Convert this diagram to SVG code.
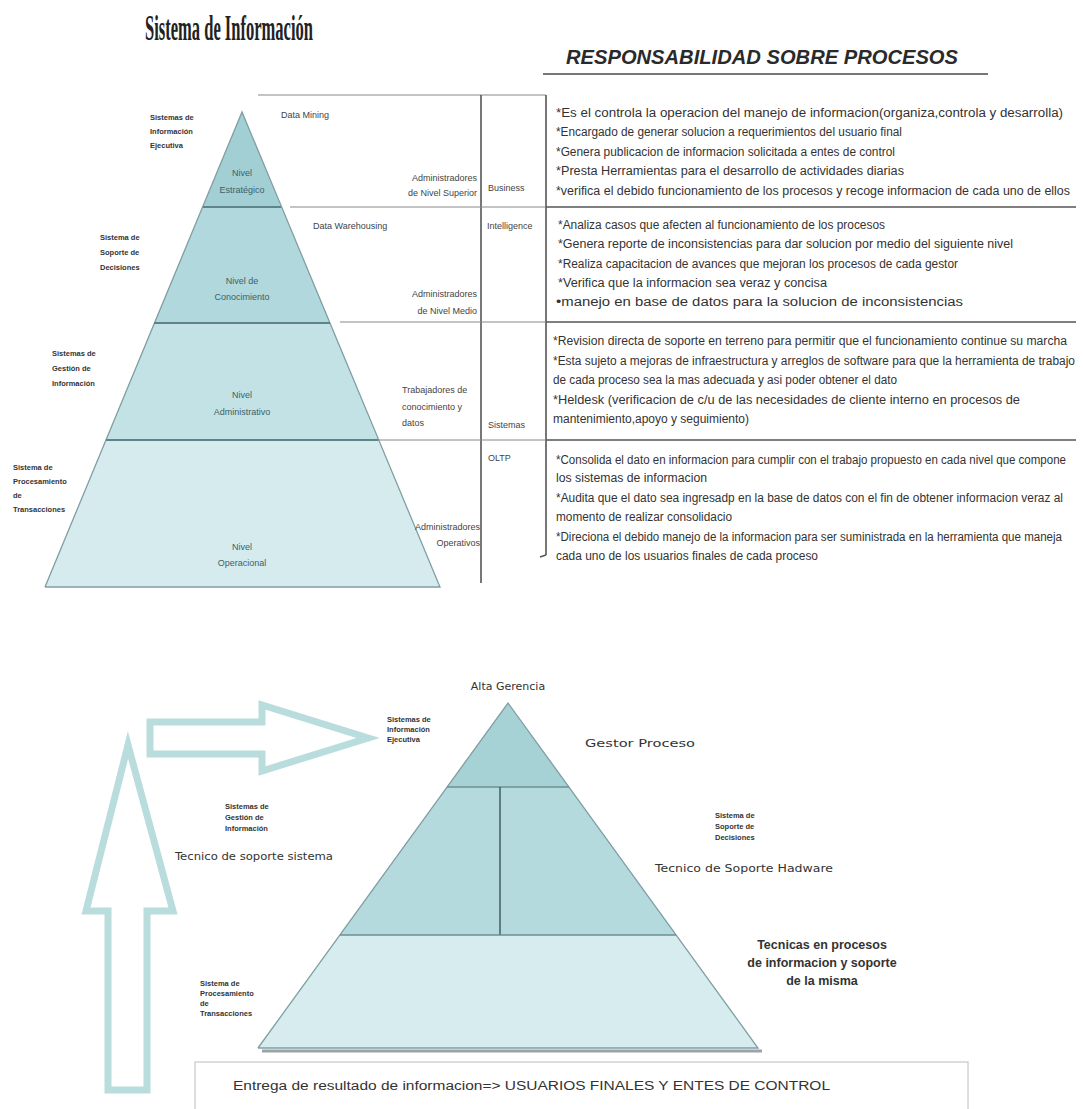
<svg xmlns="http://www.w3.org/2000/svg" width="1083" height="1109" viewBox="0 0 1083 1109">
<defs>
<style>
.title{font-family:"Liberation Serif",serif;font-weight:bold;font-size:36px;fill:#222}
.hdr{font-family:"Liberation Sans",sans-serif;font-weight:bold;font-style:italic;font-size:21px;fill:#2a2a2a}
.rt{font-family:"Liberation Sans",sans-serif;font-size:12px;fill:#333}
.mc{font-family:"Liberation Sans",sans-serif;font-size:9px;fill:#444}
.pl{font-family:"Liberation Sans",sans-serif;font-size:9px;fill:#3d6167;text-anchor:middle}
.sl{font-family:"Liberation Sans",sans-serif;font-size:7.5px;font-weight:bold;fill:#333}
.bl{font-family:"DejaVu Sans",sans-serif;font-size:11px;fill:#333}
.bb{font-family:"Liberation Sans",sans-serif;font-size:12.5px;font-weight:bold;fill:#333;text-anchor:middle}
.edge{fill:none;stroke:#7f9ea2;stroke-width:1.3}
.div{stroke:#5d8489;stroke-width:2}
.tl{stroke:#555;stroke-width:1.6}
.tlt{stroke:#888;stroke-width:1}
.arr{fill:#fff;stroke:#b9dcdd;stroke-width:7;stroke-linejoin:miter}
</style>
</defs>
<rect width="1083" height="1109" fill="#fff"/>

<g id="title">
<text class="title" x="145" y="40" textLength="168" lengthAdjust="spacingAndGlyphs">Sistema  de Información</text>
</g>
<g id="header">
<text class="hdr" x="566" y="64" textLength="392" lengthAdjust="spacingAndGlyphs">RESPONSABILIDAD SOBRE PROCESOS</text>
<line x1="543" y1="74" x2="988" y2="74" stroke="#777" stroke-width="2"/>
</g>

<g id="top-pyramid">
<g id="tier-estrategico"><polygon points="242,112 281,207 203,207" fill="#a2cfd4"/>
<text class="pl" x="242" y="176">Nivel</text><text class="pl" x="242" y="193">Estratégico</text></g>
<g id="tier-conocimiento"><polygon points="203,207 281,207 330,323 154,323" fill="#b1d8dc"/>
<text class="pl" x="242" y="284">Nivel de</text><text class="pl" x="242" y="300">Conocimiento</text></g>
<g id="tier-administrativo"><polygon points="154,323 330,323 378,440 106,440" fill="#c3e2e5"/>
<text class="pl" x="242" y="398">Nivel</text><text class="pl" x="242" y="415">Administrativo</text></g>
<g id="tier-operacional"><polygon points="106,440 378,440 440,587 45,587" fill="#d6ebee"/>
<text class="pl" x="242" y="550">Nivel</text><text class="pl" x="242" y="566">Operacional</text></g>
<polyline class="edge" points="45,587 242,112 440,587 45,587"/>
<line class="div" x1="203" y1="207" x2="281" y2="207"/>
<line class="div" x1="154" y1="323" x2="330" y2="323"/>
<line class="div" x1="106" y1="440" x2="378" y2="440"/>
</g>

<g id="top-side-labels">
<g id="sie-top"><text class="sl" x="150" y="120">Sistemas de</text><text class="sl" x="150" y="134">Información</text><text class="sl" x="150" y="148">Ejecutiva</text></g>
<g id="ssd-top"><text class="sl" x="100" y="240">Sistema de</text><text class="sl" x="100" y="255">Soporte de</text><text class="sl" x="100" y="270">Decisiones</text></g>
<g id="sgi-top"><text class="sl" x="52" y="356">Sistemas de</text><text class="sl" x="52" y="371">Gestión de</text><text class="sl" x="52" y="386">Información</text></g>
<g id="spt-top"><text class="sl" x="13" y="470">Sistema de</text><text class="sl" x="13" y="484">Procesamiento</text><text class="sl" x="13" y="498">de</text><text class="sl" x="13" y="512">Transacciones</text></g>
</g>

<g id="table-lines">
<line class="tlt" x1="258" y1="95" x2="546" y2="95"/>
<line class="tl" x1="481" y1="95" x2="481" y2="583"/>
<line class="tl" x1="546" y1="95" x2="546" y2="555"/>
<line class="tl" x1="546" y1="555" x2="540" y2="557"/>
<line class="tlt" x1="290" y1="207" x2="546" y2="207"/>
<line class="tl" x1="546" y1="207" x2="1076" y2="207"/>
<line class="tlt" x1="340" y1="322" x2="546" y2="322"/>
<line class="tl" x1="546" y1="322" x2="1076" y2="322"/>
<line class="tlt" x1="378" y1="440" x2="546" y2="440"/>
<line class="tl" x1="546" y1="440" x2="1076" y2="440"/>
</g>

<g id="middle-column">
<text class="mc" x="281" y="118">Data Mining</text>
<text class="mc" x="477" y="181" text-anchor="end">Administradores</text>
<text class="mc" x="477" y="196" text-anchor="end">de Nivel Superior</text>
<text class="mc" x="488" y="191">Business</text>
<text class="mc" x="313" y="229">Data Warehousing</text>
<text class="mc" x="487" y="229">Intelligence</text>
<text class="mc" x="477" y="297" text-anchor="end">Administradores</text>
<text class="mc" x="477" y="314" text-anchor="end">de Nivel Medio</text>
<text class="mc" x="402" y="393">Trabajadores de</text>
<text class="mc" x="402" y="410">conocimiento y</text>
<text class="mc" x="402" y="426">datos</text>
<text class="mc" x="488" y="428">Sistemas</text>
<text class="mc" x="488" y="461">OLTP</text>
<text class="mc" x="480" y="530" text-anchor="end">Administradores</text>
<text class="mc" x="480" y="546" text-anchor="end">Operativos</text>
</g>

<g id="block-1">
<text class="rt" x="556" y="117" textLength="507" lengthAdjust="spacingAndGlyphs">*Es el controla la operacion del manejo de informacion(organiza,controla y desarrolla)</text>
<text class="rt" x="556" y="136" textLength="346" lengthAdjust="spacingAndGlyphs">*Encargado de generar solucion a requerimientos del usuario final</text>
<text class="rt" x="556" y="156" textLength="339" lengthAdjust="spacingAndGlyphs">*Genera publicacion de informacion solicitada a entes de control</text>
<text class="rt" x="556" y="175" textLength="348" lengthAdjust="spacingAndGlyphs">*Presta Herramientas para el desarrollo de actividades diarias</text>
<text class="rt" x="556" y="195" textLength="514" lengthAdjust="spacingAndGlyphs">*verifica el debido funcionamiento de los procesos y recoge informacion de cada uno de ellos</text>
</g>
<g id="block-2">
<text class="rt" x="558" y="229" textLength="327" lengthAdjust="spacingAndGlyphs">*Analiza casos que afecten al funcionamiento de los procesos</text>
<text class="rt" x="558" y="248" textLength="455" lengthAdjust="spacingAndGlyphs">*Genera reporte de inconsistencias para dar solucion por medio del siguiente nivel</text>
<text class="rt" x="558" y="268" textLength="400" lengthAdjust="spacingAndGlyphs">*Realiza capacitacion de avances que mejoran los procesos de cada gestor</text>
<text class="rt" x="558" y="287" textLength="269" lengthAdjust="spacingAndGlyphs">*Verifica que la informacion sea veraz y concisa</text>
<text class="rt" x="556" y="306" textLength="407" lengthAdjust="spacingAndGlyphs">•manejo en base de datos para la solucion de inconsistencias</text>
</g>
<g id="block-3">
<text class="rt" x="553" y="345" textLength="514" lengthAdjust="spacingAndGlyphs">*Revision directa de soporte en terreno para permitir que el funcionamiento continue su marcha</text>
<text class="rt" x="553" y="365" textLength="522" lengthAdjust="spacingAndGlyphs">*Esta sujeto a mejoras de infraestructura y arreglos de software para que la herramienta de trabajo</text>
<text class="rt" x="553" y="384" textLength="344" lengthAdjust="spacingAndGlyphs">de cada proceso sea la mas adecuada y asi poder obtener el dato</text>
<text class="rt" x="553" y="404" textLength="467" lengthAdjust="spacingAndGlyphs">*Heldesk (verificacion de c/u de las necesidades de cliente interno en procesos de</text>
<text class="rt" x="553" y="423" textLength="196" lengthAdjust="spacingAndGlyphs">mantenimiento,apoyo y seguimiento)</text>
</g>
<g id="block-4">
<text class="rt" x="556" y="464" textLength="510" lengthAdjust="spacingAndGlyphs">*Consolida el dato en informacion para cumplir con el trabajo propuesto en cada nivel que compone</text>
<text class="rt" x="556" y="482" textLength="151" lengthAdjust="spacingAndGlyphs">los sistemas de informacion</text>
<text class="rt" x="556" y="502" textLength="507" lengthAdjust="spacingAndGlyphs">*Audita que el dato sea ingresadp en la base de datos con el fin de obtener informacion veraz al</text>
<text class="rt" x="556" y="521" textLength="176" lengthAdjust="spacingAndGlyphs">momento de realizar consolidacio</text>
<text class="rt" x="556" y="541" textLength="506" lengthAdjust="spacingAndGlyphs">*Direciona el debido manejo de la informacion para ser suministrada en la herramienta que maneja</text>
<text class="rt" x="556" y="560" textLength="262" lengthAdjust="spacingAndGlyphs">cada uno de los usuarios finales de cada proceso</text>
</g>

<g id="connectors">
<polygon id="arrow-up" class="arr" points="128,745 173,911 147,911 147,1090 108,1090 108,911 86,911"/>
<polygon id="arrow-right" class="arr" points="150,722 262,722 262,705 368,738 262,771 262,754 150,754"/>
</g>

<g id="bottom-pyramid">
<line x1="262" y1="1051" x2="762" y2="1051" stroke="#9aa4a6" stroke-width="3"/>
<g id="b-tier-top"><polygon points="508,703 569,787 447,787" fill="#a6d1d5"/></g>
<g id="b-tier-mid"><polygon points="447,787 569,787 676,935 340,935" fill="#b5dadd"/></g>
<g id="b-tier-base"><polygon points="340,935 676,935 758,1048 258,1048" fill="#d7ecee"/></g>
<polyline class="edge" points="258,1048 508,703 758,1048 258,1048"/>
<line x1="447" y1="787" x2="569" y2="787" stroke="#6c8f94" stroke-width="1.5"/>
<line x1="500" y1="787" x2="500" y2="935" stroke="#3f5f63" stroke-width="1.5"/>
<line x1="340" y1="935" x2="676" y2="935" stroke="#6c8f94" stroke-width="1.5"/>
</g>

<g id="bottom-labels">
<g id="alta-gerencia"><text class="bl" x="508" y="690" text-anchor="middle">Alta Gerencia</text></g>
<g id="gestor-proceso"><text class="bl" x="585" y="747" textLength="110" lengthAdjust="spacingAndGlyphs">Gestor Proceso</text></g>
<g id="sie-bottom"><text class="sl" x="387" y="722">Sistemas de</text><text class="sl" x="387" y="732">Información</text><text class="sl" x="387" y="742">Ejecutiva</text></g>
<g id="sgi-bottom"><text class="sl" x="225" y="809">Sistemas de</text><text class="sl" x="225" y="820">Gestión de</text><text class="sl" x="225" y="831">Información</text></g>
<g id="ssd-bottom"><text class="sl" x="715" y="818">Sistema de</text><text class="sl" x="715" y="829">Soporte de</text><text class="sl" x="715" y="840">Decisiones</text></g>
<g id="tecnico-sistema"><text class="bl" x="175" y="860" textLength="158" lengthAdjust="spacingAndGlyphs">Tecnico de soporte sistema</text></g>
<g id="tecnico-hadware"><text class="bl" x="655" y="872" textLength="178" lengthAdjust="spacingAndGlyphs">Tecnico de Soporte Hadware</text></g>
<g id="tecnicas"><text class="bb" x="822" y="949">Tecnicas en procesos</text><text class="bb" x="822" y="967">de informacion y soporte</text><text class="bb" x="822" y="985">de la misma</text></g>
<g id="spt-bottom"><text class="sl" x="200" y="986">Sistema de</text><text class="sl" x="200" y="996">Procesamiento</text><text class="sl" x="200" y="1006">de</text><text class="sl" x="200" y="1016">Transacciones</text></g>
</g>

<g id="result-box">
<rect x="195" y="1062" width="773" height="52" fill="#fff" stroke="#cfd4d6" stroke-width="1.5"/>
<text class="rt" x="233" y="1090" font-size="12.5" textLength="597" lengthAdjust="spacingAndGlyphs">Entrega de resultado de informacion=&gt; USUARIOS FINALES Y ENTES DE CONTROL</text>
</g>
</svg>
